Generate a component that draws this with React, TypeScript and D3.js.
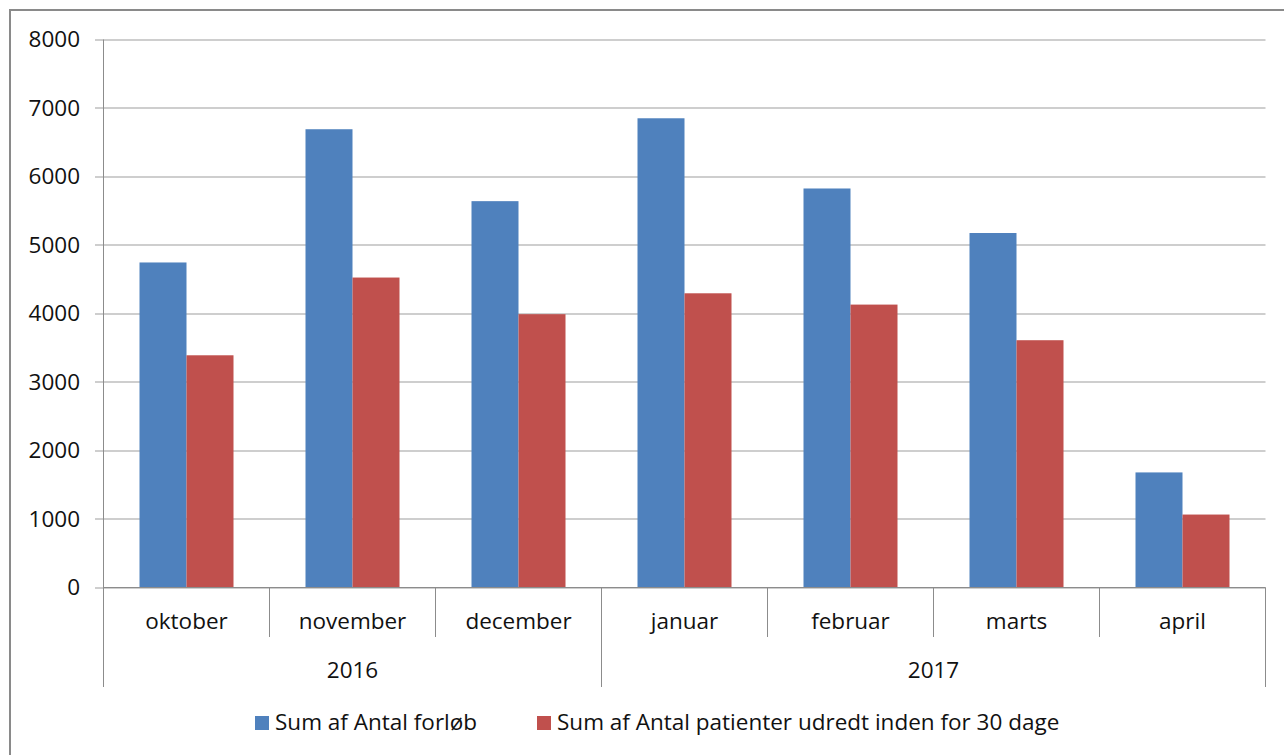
import React from "react";
import * as d3 from "d3";

const months = ["oktober", "november", "december", "januar", "februar", "marts", "april"];
const monthYear = ["2016", "2016", "2016", "2017", "2017", "2017", "2017"];
const years = ["2016", "2017"];
const forloeb = [4745, 6690, 5640, 6850, 5825, 5175, 1680];
const udredt = [3390, 4525, 3990, 4295, 4130, 3610, 1065];
const seriesNames = ["Sum af Antal forløb", "Sum af Antal patienter udredt inden for 30 dage"];
const seriesColors = ["#4F81BD", "#C0504D"];
const yTicks = [0, 1000, 2000, 3000, 4000, 5000, 6000, 7000, 8000];

export default function App() {
  const W = 1284, H = 755;
  const left = 103.5, right = 1265.5, top = 39.5, bottom = 587.5;
  const font = "'Open Sans', sans-serif";
  const fs = 22.5;

  const x = d3.scaleBand<string>().domain(months).range([left, right]).paddingInner(0).paddingOuter(0);
  const xs = d3.scaleBand<string>().domain(["0", "1"]).range([0, x.bandwidth()]).paddingInner(0).paddingOuter(0.766);
  const y = d3.scaleLinear().domain([0, 8000]).range([bottom, top]);
  const series = [forloeb, udredt];

  const gridColor = "#9d9d9d";
  const axisColor = "#8c8c8c";

  // year groups
  const yearGroups = years.map((yr) => {
    const idx = months.map((m, i) => i).filter((i) => monthYear[i] === yr);
    const x0 = x(months[idx[0]])!;
    const x1 = x(months[idx[idx.length - 1]])! + x.bandwidth();
    return { yr, x0, x1 };
  });

  const monthDividers: number[] = [];
  months.forEach((m, i) => {
    if (i > 0 && monthYear[i] === monthYear[i - 1]) monthDividers.push(x(m)!);
  });
  const yearDividers: number[] = [left];
  yearGroups.forEach((g) => yearDividers.push(g.x1));

  return (
    <svg width={W} height={H} style={{ position: "absolute", left: 0, top: 0, background: "#fff" }}>
      <rect x={0} y={0} width={W} height={H} fill="#fff" />
      <rect x={10} y={10} width={1300} height={800} fill="none" stroke="#8a8a8a" strokeWidth={2} />
      {/* gridlines */}
      {yTicks.map((t) => (
        <line key={"g" + t} x1={95} x2={right} y1={Math.round(y(t)) + 0.5 - 0.5} y2={Math.round(y(t)) + 0.5 - 0.5} stroke={gridColor} strokeWidth={1} />
      ))}
      {/* y labels */}
      {yTicks.map((t) => (
        <text key={"l" + t} x={80} y={y(t) + 7.5} textAnchor="end" fontFamily={font} fontSize={fs} fill="#111">
          {t}
        </text>
      ))}
      {/* bars */}
      {series.map((vals, si) =>
        vals.map((v, i) => (
          <rect
            key={"b" + si + "-" + i}
            x={x(months[i])! + xs(String(si))!}
            y={y(v)}
            width={xs.bandwidth()}
            height={y(0) - y(v)}
            fill={seriesColors[si]}
          />
        ))
      )}
      {/* axes */}
      <line x1={left} x2={left} y1={top} y2={687} stroke={axisColor} strokeWidth={1} />
      <line x1={left} x2={right} y1={bottom} y2={bottom} stroke={axisColor} strokeWidth={1} />
      {monthDividers.map((d, i) => (
        <line key={"md" + i} x1={d} x2={d} y1={bottom} y2={637} stroke={axisColor} strokeWidth={1} />
      ))}
      {yearDividers.map((d, i) => (
        <line key={"yd" + i} x1={d} x2={d} y1={bottom} y2={687} stroke={axisColor} strokeWidth={1} />
      ))}
      {/* category labels */}
      {months.map((m) => (
        <text key={"c" + m} x={x(m)! + x.bandwidth() / 2} y={629} textAnchor="middle" fontFamily={font} fontSize={fs} fill="#111">
          {m}
        </text>
      ))}
      {yearGroups.map((g) => (
        <text key={"y" + g.yr} x={(g.x0 + g.x1) / 2} y={678} textAnchor="middle" fontFamily={font} fontSize={fs} fill="#111">
          {g.yr}
        </text>
      ))}
      {/* legend */}
      <rect x={255} y={716} width={14} height={14} fill={seriesColors[0]} />
      <text x={275} y={730} fontFamily={font} fontSize={fs} fill="#111">{seriesNames[0]}</text>
      <rect x={537} y={716} width={14} height={14} fill={seriesColors[1]} />
      <text x={557} y={730} fontFamily={font} fontSize={fs} fill="#111">{seriesNames[1]}</text>
    </svg>
  );
}
